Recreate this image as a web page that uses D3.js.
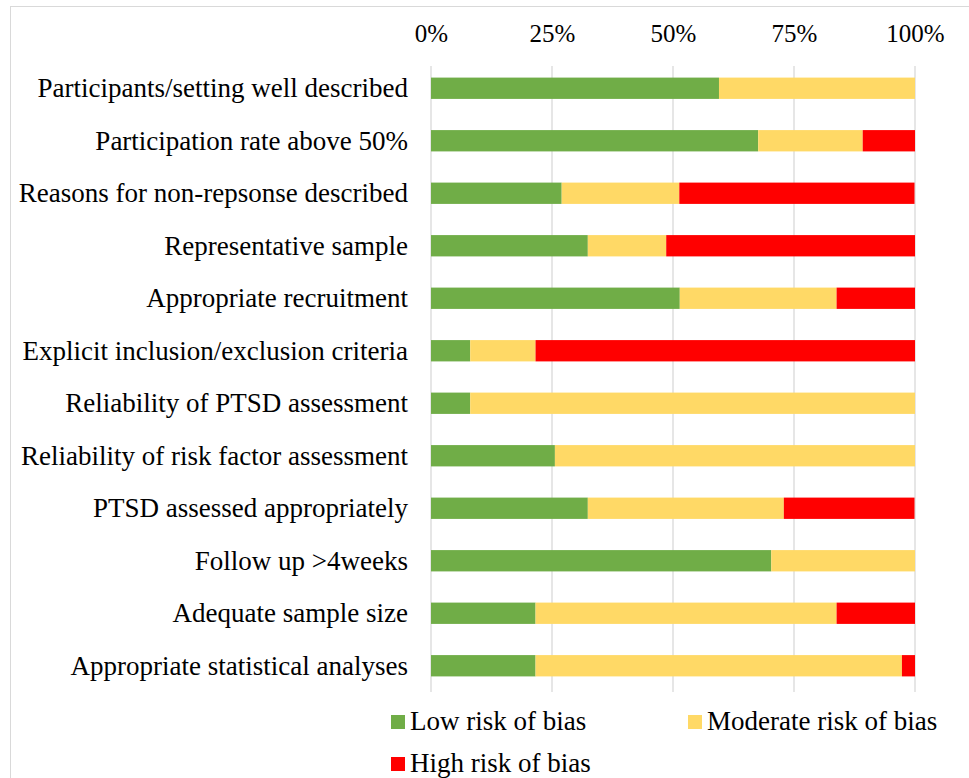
<!DOCTYPE html>
<html>
<head>
<meta charset="utf-8">
<script src="https://cdn.jsdelivr.net/npm/d3@7"></script>
<style>
  body { margin: 0; background: #fff; }
  text { font-family: "Liberation Serif", "Times New Roman", serif; fill: #000; }
</style>
</head>
<body>
<script>
var categories = [
  "Participants/setting well described",
  "Participation rate above 50%",
  "Reasons for non-repsonse described",
  "Representative sample",
  "Appropriate recruitment",
  "Explicit inclusion/exclusion criteria",
  "Reliability of PTSD assessment",
  "Reliability of risk factor assessment",
  "PTSD assessed appropriately",
  "Follow up >4weeks",
  "Adequate sample size",
  "Appropriate statistical analyses"
];
var lowRisk      = [59.5, 67.6, 27.0, 32.4, 51.4, 8.1, 8.1, 25.6, 32.4, 70.3, 21.6, 21.6];
var moderateRisk = [40.5, 21.6, 24.3, 16.2, 32.4, 13.5, 91.9, 74.4, 40.5, 29.7, 62.2, 75.7];
var highRisk     = [0, 10.8, 48.6, 51.4, 16.2, 78.4, 0, 0, 27.0, 0, 16.2, 2.7];
var seriesNames  = ["Low risk of bias", "Moderate risk of bias", "High risk of bias"];
var tickValues   = [0, 25, 50, 75, 100];

var colors = ["#70AD47", "#FFD966", "#FF0000"];

var width = 969, height = 778;
var margin = { top: 62, right: 54, bottom: 86, left: 431 };

var svg = d3.select("body").append("svg")
    .attr("width", width)
    .attr("height", height);

// outer chart border
svg.append("rect")
    .attr("x", 10.5).attr("y", 6.5)
    .attr("width", 960).attr("height", 780)
    .attr("fill", "none")
    .attr("stroke", "#d9d9d9");

var x = d3.scaleLinear()
    .domain([0, 100])
    .range([margin.left, width - margin.right]);

var y = d3.scaleBand()
    .domain(categories)
    .range([margin.top, height - margin.bottom])
    .paddingInner(0.594)
    .paddingOuter(0.297);

// gridlines
svg.append("g")
    .selectAll("line")
    .data(tickValues)
    .join("line")
    .attr("x1", d => x(d)).attr("x2", d => x(d))
    .attr("y1", margin.top + 4).attr("y2", height - margin.bottom)
    .attr("stroke", "#d9d9d9")
    .attr("stroke-width", 1.3);

// top axis labels
var xAxis = d3.axisTop(x)
    .tickValues(tickValues)
    .tickFormat(d => d + "%")
    .tickSize(0)
    .tickPadding(0);

svg.append("g")
    .attr("transform", "translate(0,42)")
    .call(xAxis)
    .call(g => g.select(".domain").remove())
    .selectAll("text")
    .style("font-size", "25px")
    .attr("dy", 0);

// category labels
var yAxis = d3.axisLeft(y).tickSize(0).tickPadding(23);
svg.append("g")
    .attr("transform", "translate(" + margin.left + ",0)")
    .call(yAxis)
    .call(g => g.select(".domain").remove())
    .selectAll("text")
    .style("font-size", "27px")
    .attr("dy", "0.33em");

// stacked bars
var rows = categories.map(function (c, i) {
  return { cat: c, low: lowRisk[i], moderate: moderateRisk[i], high: highRisk[i] };
});
var stack = d3.stack().keys(["low", "moderate", "high"]);
var layers = stack(rows);

svg.append("g")
    .selectAll("g")
    .data(layers)
    .join("g")
    .attr("fill", (d, i) => colors[i])
    .selectAll("rect")
    .data(d => d)
    .join("rect")
    .attr("x", d => x(d[0]))
    .attr("y", d => y(d.data.cat))
    .attr("width", d => Math.max(0, x(Math.min(d[1], 100)) - x(d[0])))
    .attr("height", y.bandwidth());

// legend
var legendPos = [[391, 715], [688, 715], [391, 757]];
var legend = svg.append("g")
    .selectAll("g")
    .data(seriesNames)
    .join("g")
    .attr("transform", (d, i) => "translate(" + legendPos[i][0] + "," + legendPos[i][1] + ")");

legend.append("rect")
    .attr("width", 14).attr("height", 14)
    .attr("fill", (d, i) => colors[i]);

legend.append("text")
    .attr("x", 19)
    .attr("y", 15)
    .style("font-size", "27px")
    .text(d => d);
</script>
</body>
</html>
